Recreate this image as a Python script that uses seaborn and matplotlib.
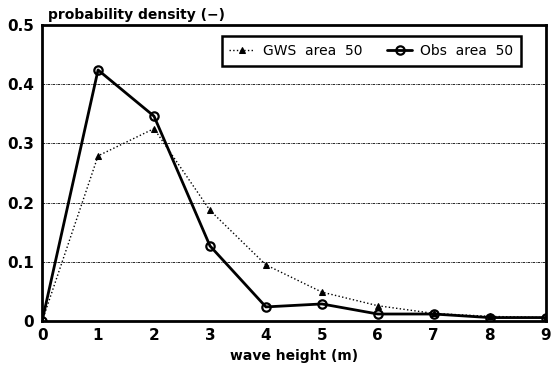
import matplotlib
matplotlib.use("Agg")
import matplotlib.pyplot as plt
import seaborn as sns
import pandas as pd

wave_height = [0, 1, 2, 3, 4, 5, 6, 7, 8, 9]
gws_area50 = [0.0, 0.279, 0.325, 0.187, 0.095, 0.049, 0.026, 0.013, 0.008, 0.006]
obs_area50 = [0.0, 0.424, 0.346, 0.127, 0.024, 0.029, 0.012, 0.012, 0.006, 0.006]
y_ticks = [0, 0.1, 0.2, 0.3, 0.4, 0.5]
y_tick_labels = ["0", "0.1", "0.2", "0.3", "0.4", "0.5"]

sns.set_theme(style="white")
plt.rcParams["font.family"] = ["DejaVu Sans"]
plt.rcParams["text.color"] = "black"
plt.rcParams["xtick.color"] = "black"
plt.rcParams["ytick.color"] = "black"
plt.rcParams["axes.labelcolor"] = "black"

fig = plt.figure(figsize=(5.54, 3.67), dpi=100)
ax = fig.add_axes([0.076, 0.125, 0.909, 0.807])

df_g = pd.DataFrame({"x": wave_height, "y": gws_area50})
df_o = pd.DataFrame({"x": wave_height, "y": obs_area50})

sns.lineplot(data=df_g, x="x", y="y", ax=ax, color="black", linestyle=":",
             linewidth=1.0, marker="^", markersize=5, markeredgecolor="black",
             label="GWS  area  50")
sns.lineplot(data=df_o, x="x", y="y", ax=ax, color="black", linestyle="-",
             linewidth=2.0, marker="o", markersize=6, markerfacecolor="none",
             markeredgewidth=1.6, markeredgecolor="black",
             label="Obs  area  50")

ax.set_xlim(0, 9)
ax.set_ylim(0, 0.5)
ax.set_xticks(wave_height)
ax.set_xticklabels([str(v) for v in wave_height], fontsize=11, fontweight="bold")
ax.set_yticks(y_ticks)
ax.set_yticklabels(y_tick_labels, fontsize=11, fontweight="bold")
for yv in y_ticks[1:-1]:
    ax.axhline(yv, color="black", linestyle=(0, (3, 1, 1, 1)), linewidth=0.6, zorder=0)

for s in ax.spines.values():
    s.set_linewidth(2.0)
    s.set_color("black")
ax.tick_params(axis="x", direction="in", length=5, width=1.2, pad=5)
ax.tick_params(axis="y", direction="in", length=0, pad=6)

ax.set_xlabel("wave height (m)", fontsize=10, fontweight="bold", labelpad=4)
ax.set_ylabel("")
ax.text(0.012, 1.01, "probability density (−)", transform=ax.transAxes,
        fontsize=10, fontweight="bold", ha="left", va="bottom")

leg = ax.legend(loc="upper right", bbox_to_anchor=(0.965, 0.985), ncol=2,
                frameon=True, fancybox=False, fontsize=10,
                handlelength=1.8, handletextpad=0.6, columnspacing=1.8,
                borderpad=0.55)
leg.get_frame().set_edgecolor("black")
leg.get_frame().set_linewidth(1.8)
leg.get_frame().set_alpha(1)

fig.savefig("out.png", dpi=100)
